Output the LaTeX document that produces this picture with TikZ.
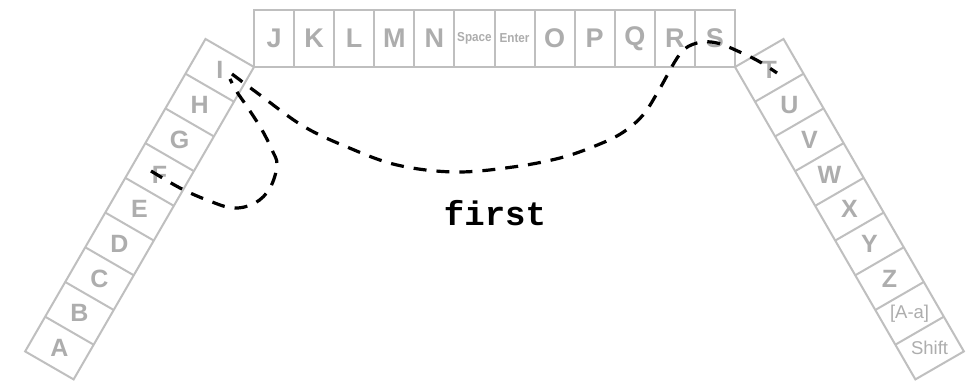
\documentclass[tikz,border=0pt]{standalone}
\usepackage{fontspec}
\setmainfont{Liberation Sans}
\newfontfamily\monofont{Liberation Mono}
\newfontfamily\narrowfont[FakeStretch=0.9]{Liberation Sans}
\definecolor{boxgray}{HTML}{BFBFBF}
\definecolor{txtgray}{HTML}{ADADAD}
\begin{document}
\begin{tikzpicture}[x=1pt,y=1pt,
  keybox/.style={draw=boxgray, line width=2pt, line join=miter},
  keylbl/.style={text=txtgray, font=\fontsize{27}{27}\selectfont\bfseries, inner sep=0pt},
  armlbl/.style={text=txtgray, font=\fontsize{25}{25}\selectfont\bfseries, inner sep=0pt},
  smalllbl/.style={text=txtgray, font=\fontsize{13}{13}\narrowfont\bfseries, inner sep=0pt},
  shiftlbl/.style={text=txtgray, font=\fontsize{18.5}{18.5}\selectfont, inner sep=0pt},
  trace/.style={line width=3.2pt, dash pattern=on 13pt off 10pt, black},
  wordlbl/.style={font=\fontsize{34}{34}\monofont\bfseries, inner sep=0pt}]
\fill[white] (0,0) rectangle (980,387);
\useasboundingbox (0,0) rectangle (980,387);
\def\cw{40.083}
% top bar
\draw[keybox] (254,320) rectangle ({254+12*\cw},377);
\foreach \i in {1,...,11} \draw[keybox] ({254+\i*\cw},320) -- ({254+\i*\cw},377);
\foreach \t/\s [count=\i from 0] in {J/keylbl,K/keylbl,L/keylbl,M/keylbl,N/keylbl,Space/smalllbl,Enter/smalllbl,O/keylbl,P/keylbl,Q/keylbl,R/keylbl,S/keylbl}
  \node[\s] (top\i) at ({254+(\i+0.5)*\cw},348.5) {\t};
% left arm
\begin{scope}[shift={(254,320)}, rotate=60]
  \draw[keybox] ({-9*\cw},0) rectangle (0,56);
  \foreach \i in {1,...,8} \draw[keybox] ({-\i*\cw},0) -- ({-\i*\cw},56);
  \foreach \t [count=\i from 0] in {I,H,G,F,E,D,C,B,A}
    \node[armlbl] (left\i) at ({-(\i+0.5)*\cw},28) {\t};
\end{scope}
% right arm
\begin{scope}[shift={(735,320)}, rotate=-60]
  \draw[keybox] (0,0) rectangle ({9*\cw},56);
  \foreach \i in {1,...,8} \draw[keybox] ({\i*\cw},0) -- ({\i*\cw},56);
  \foreach \t [count=\i from 0] in {T,U,V,W,X,Y,Z}
    \node[armlbl] (right\i) at ({(\i+0.5)*\cw},28) {\t};
  \node[shiftlbl] (right7) at ({7.5*\cw},28) {[A-a]};
  \node[shiftlbl] (right8) at ({8.5*\cw},28) {Shift};
\end{scope}
% gesture trace
\draw[trace] plot[smooth, tension=0.6] coordinates {(151,216) (180,199) (207,187) (233,179) (255,184) (270,199) (277,222) (272,237) (262,257) (248,279) (237,295) (230,308)}
  plot[smooth, tension=0.6] coordinates {(232,313) (260,292) (303,261) (347,240) (397,222) (455,215) (513,220) (560,229) (595,241) (622,254) (643,272) (659,297) (680,333) (697,344) (717,344) (742,334) (760,325) (777,314)};
\node[wordlbl] (word) at (495,174) {first};
\end{tikzpicture}
\end{document}
